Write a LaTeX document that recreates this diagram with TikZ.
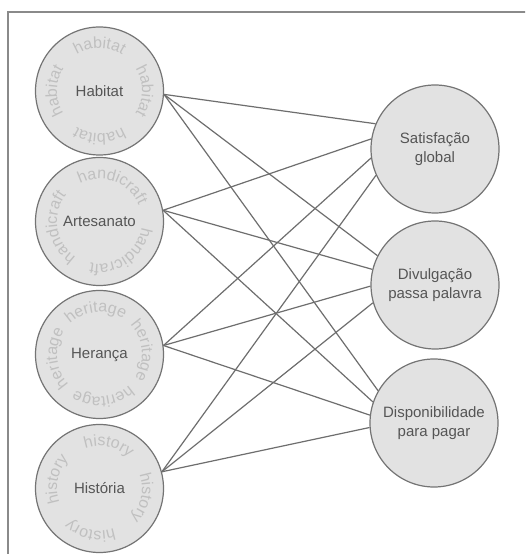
\documentclass[tikz,border=0pt]{standalone}
\usepackage{fontspec}
\setmainfont{Liberation Sans}
\usetikzlibrary{decorations.text}
\definecolor{cfill}{HTML}{E2E2E2}
\definecolor{cedge}{HTML}{747474}
\definecolor{cline}{HTML}{6E6E6E}
\definecolor{ctext}{HTML}{555555}
\definecolor{ccurve}{HTML}{C0C0C0}
\definecolor{cframe}{HTML}{8A8A8A}
\newcommand{\curvefont}{\fontsize{16}{16}\selectfont}
\newcommand{\ringtext}[3]{%
  \foreach \ang in {#3} {
    \path[decorate, decoration={text along path, text={|\curvefont\color{ccurve}|#2}, text align=center}]
      ([shift={(\ang+75:42.5pt)}]#1.center) arc[start angle=\ang+75, end angle=\ang-75, radius=42.5pt];
  }}
\begin{document}
\begin{tikzpicture}[x=1pt,y=1pt,
  circ/.style={circle, draw=cedge, fill=cfill, line width=1.2pt, minimum size=128pt, inner sep=0pt,
    font=\fontsize{15}{19}\selectfont, text=ctext, align=center},
  conn/.style={draw=cline, line width=1.2pt},
  frame/.style={draw=cframe, line width=1.5pt}]
\useasboundingbox (0,0) rectangle (525,554);
\clip (0,0) rectangle (525,554);
\fill[white] (0,0) rectangle (525,554);
\draw[frame] (8,-20) rectangle (545,542);
% left circles
\node[circ] (hab) at (99.5,463) {Habitat};
\node[circ] (art) at (99.5,332.5) {Artesanato};
\node[circ] (her) at (99.5,199.5) {Herança};
\node[circ] (his) at (99.5,65.5) {História};
% right circles
\node[circ] (sat) at (435,405) {Satisfação\\global};
\node[circ] (div) at (435,269) {Divulgação\\passa palavra};
\node[circ] (dis) at (434,131) {Disponibilidade\\para pagar};
% ring texts
\ringtext{hab}{habitat}{90,0,270,180}
\ringtext{art}{handicraft}{70,305,189}
\ringtext{her}{heritage}{95,5,275,185}
\ringtext{his}{history}{78,-12,258,168}
% connectors
\draw[conn] (hab.-3) -- (sat.157);
\draw[conn] (hab.-3) -- (div.153);
\draw[conn] (hab.-3) -- (dis.150);
\draw[conn] (art.10) -- (sat.171);
\draw[conn] (art.10) -- (div.166);
\draw[conn] (art.10) -- (dis.161);
\draw[conn] (her.8) -- (sat.188);
\draw[conn] (her.8) -- (div.181);
\draw[conn] (her.8) -- (dis.173);
\draw[conn] (his.15) -- (sat.204);
\draw[conn] (his.15) -- (div.196);
\draw[conn] (his.15) -- (dis.184);
\end{tikzpicture}
\end{document}
